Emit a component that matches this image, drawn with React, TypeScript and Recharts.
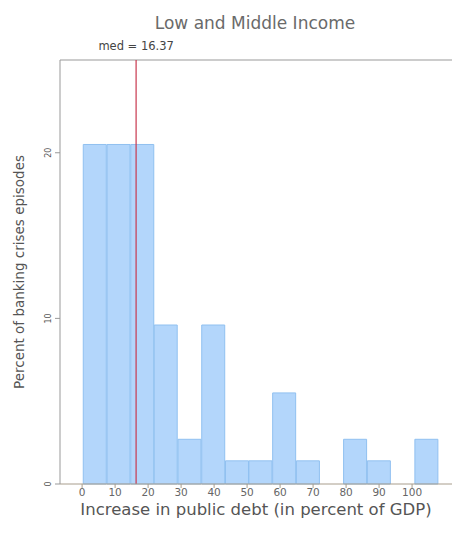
import React from 'react';
import {
  Bar,
  ComposedChart,
  Label,
  ReferenceLine,
  XAxis,
  YAxis,
} from 'recharts';

// histogram bins (midpoint, percent of episodes)
const binMids = [3.9, 11.1, 18.3, 25.4, 32.6, 39.8, 47.0, 54.1, 61.3, 68.5, 75.7, 82.8, 90.0, 97.2, 104.4];
const binPercents = [20.5, 20.5, 20.5, 9.6, 2.7, 9.6, 1.4, 1.4, 5.5, 1.4, 0, 2.7, 1.4, 0, 2.7];

const xTicks = [0, 10, 20, 30, 40, 50, 60, 70, 80, 90, 100];
const yTicks = [0, 10, 20];
const xDomain: [number, number] = [-6.7, 112.1];
const yMax = 25.6;
const median = 16.37;

const data = binMids.map((mid, i) => ({ mid, pct: binPercents[i] }));

const font = '"DejaVu Sans", Verdana, sans-serif';

const YTick = (props: any) => {
  const { x, y, payload } = props;
  return (
    <text
      x={x - 2}
      y={y}
      transform={`rotate(-90, ${x - 2}, ${y})`}
      textAnchor="middle"
      fontSize={8}
      fill="#555"
      fontFamily={font}
    >
      {payload.value}
    </text>
  );
};

export default function App() {
  return (
    <div style={{ position: 'absolute', left: 0, top: 0, width: 462, height: 534, background: '#fff' }}>
      <div
        style={{
          position: 'absolute',
          top: 13,
          left: 0,
          width: 510,
          textAlign: 'center',
          fontFamily: font,
          fontSize: 17,
          color: '#6a6a6a',
        }}
      >
        Low and Middle Income
      </div>
      <ComposedChart
        width={462}
        height={534}
        data={data}
        barCategoryGap={0}
        margin={{ top: 60, right: 10, bottom: 0, left: 0 }}
      >
        <XAxis
          dataKey="mid"
          type="number"
          domain={xDomain}
          ticks={xTicks}
          allowDataOverflow
          height={50}
          stroke="#a89d8c"
          tickSize={4}
          tickMargin={1}
          interval={0}
          tick={{ fill: '#666', fontSize: 10.5, fontFamily: font }}
        >
          <Label
            value="Increase in public debt (in percent of GDP)"
            position="insideBottom"
            offset={19}
            style={{ fill: '#555', fontSize: 16.5, fontFamily: font }}
          />
        </XAxis>
        <YAxis
          domain={[0, yMax]}
          ticks={yTicks}
          width={60}
          stroke="#999"
          tickSize={5}
          tick={<YTick />}
        >
          <Label
            value="Percent of banking crises episodes"
            angle={-90}
            position="insideLeft"
            offset={19}
            style={{ fill: '#555', fontSize: 13.5, fontFamily: font, textAnchor: 'middle' }}
          />
        </YAxis>
        <ReferenceLine y={yMax} stroke="#999" strokeWidth={1} />
        <Bar
          dataKey="pct"
          fill="#b3d6fb"
          stroke="#90c0f0"
          strokeWidth={1}
          isAnimationActive={false}
        />
        <ReferenceLine x={median} stroke="#c8374e" strokeWidth={1.5} strokeOpacity={0.8}>
          <Label
            value={`med = ${median}`}
            position="top"
            offset={10}
            style={{ fill: '#444', fontSize: 11.5, fontFamily: font }}
          />
        </ReferenceLine>
      </ComposedChart>
    </div>
  );
}
